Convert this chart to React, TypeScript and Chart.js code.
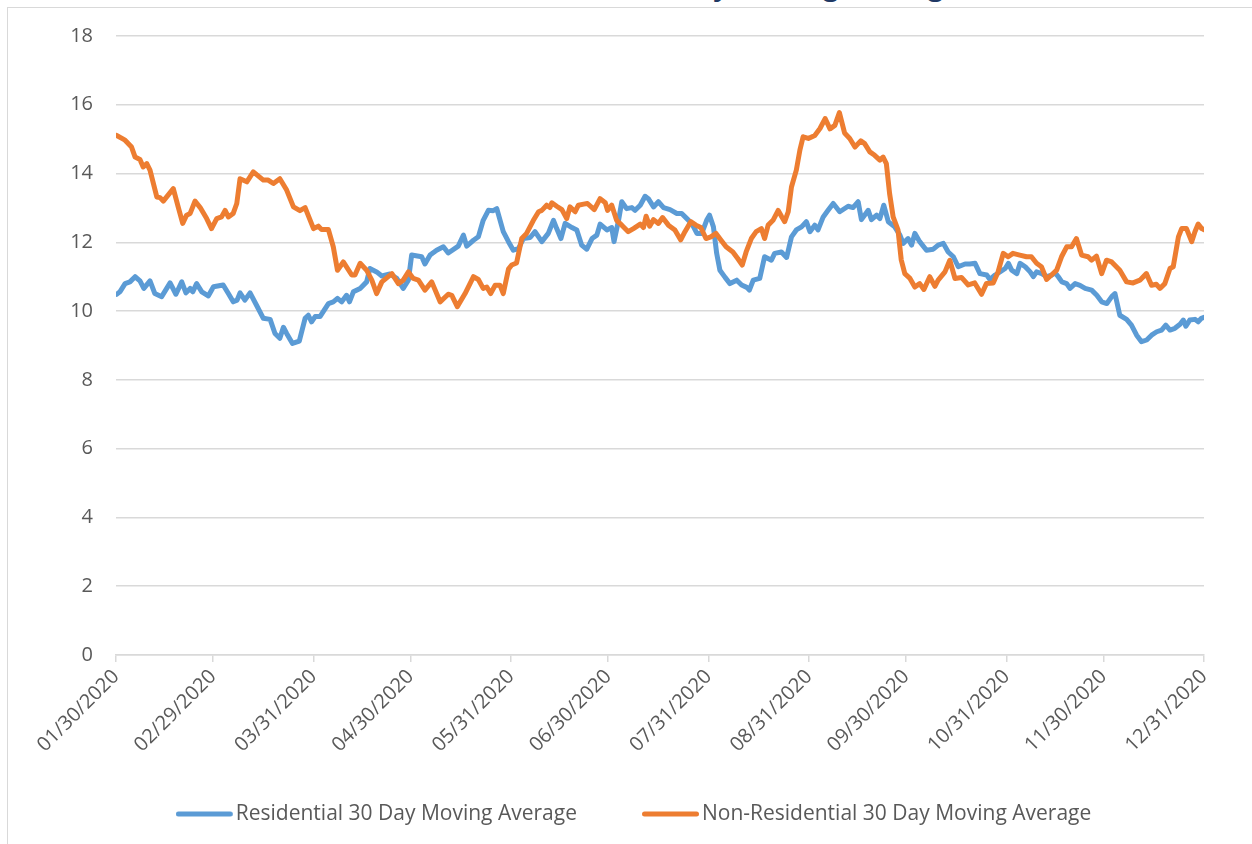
import React, { useEffect, useRef } from "react";
import { Chart, registerables } from "chart.js";

Chart.register(...registerables);

const FONT = "'Open Sans', 'Liberation Sans', sans-serif";

const chartTitle = "Non-Residential vs. Residential 30 Day Moving Average";
const seriesNames = ["Residential 30 Day Moving Average", "Non-Residential 30 Day Moving Average"];
const seriesColors = ["#5B9BD5", "#ED7D31"];

// day index counted from 01/30/2020
const monthEndDays = [0, 30, 61, 91, 122, 152, 183, 214, 244, 275, 305, 336];
const monthEndLabels = [
  "01/30/2020", "02/29/2020", "03/31/2020", "04/30/2020", "05/31/2020", "06/30/2020",
  "07/31/2020", "08/31/2020", "09/30/2020", "10/31/2020", "11/30/2020", "12/31/2020",
];
const yTicks = [0, 2, 4, 6, 8, 10, 12, 14, 16, 18];

const resDays = [
  0.2, 1.2, 2.8, 4.3, 5.9, 7.4, 8.6, 10.5, 12, 14.1, 16.7, 18.5, 20.3, 21.6, 22.9, 23.7, 24.9, 26.5, 28.5, 30.1,
  33.1, 34.7, 36.2, 37.4, 38.3, 39.8, 41.4, 43.4, 45.5, 47.6, 49.1, 50.6, 51.7, 52.7, 54.5, 56.6, 58.4, 59.4, 60.4, 61.5,
  63, 65.6, 67.1, 68.4, 69.7, 71.2, 72.1, 73.3, 75.4, 77.4, 78.4, 80.5, 82.1, 84.6, 86.7, 88.7, 90.3, 91.3, 94.4, 95.4,
  97, 99, 101.1, 102.6, 105.7, 107.3, 108.3, 110.4, 111.9, 113.4, 115, 116.5, 117.6, 119.6, 121.2, 122.7, 124.3, 125.8, 127.9, 129.4,
  131.5, 133.5, 135.1, 136.1, 137.4, 138.7, 140.8, 142.3, 143.8, 145.4, 147, 148.5, 149.5, 151.6, 153.1, 153.8, 155.2, 156.2, 157.7, 159.3,
  160.3, 161.9, 163.4, 164.4, 166, 167.5, 169.1, 171.1, 173.2, 174.7, 176.3, 177.8, 179.4, 180.9, 182.4, 183.3, 184.5, 185.5, 186.5, 188.1,
  189.6, 191.7, 193.2, 194.8, 195.6, 196.8, 198.8, 200.3, 202.4, 203.4, 205.5, 207.1, 208.6, 210.1, 211.7, 213.2, 214.3, 215.8, 216.8, 218.4,
  219.9, 221.5, 223.5, 226.1, 227.6, 229.2, 230.2, 232.3, 233.3, 234.9, 235.9, 237.1, 238.5, 240.5, 242.1, 243.1, 244.6, 245.7, 246.7, 248.2,
  250.3, 252.4, 253.9, 255.5, 257, 258.6, 260.1, 262.2, 263.7, 265.3, 266.8, 268.9, 269.9, 271.5, 273, 274.6, 275.6, 276.6, 278.2, 279.2,
  280.8, 282.3, 283.3, 284.3, 285.9, 287.4, 289, 290, 291, 292.1, 293.6, 294.6, 296.2, 297.7, 299.3, 301.3, 302.9, 304.4, 306, 307.5,
  308.5, 310, 312.1, 313.6, 315.2, 316.7, 318.3, 319.8, 321.4, 322.9, 324.2, 325.5, 327, 328.6, 329.6, 330.4, 331.6, 333.2, 334.2, 335.2,
  336,
];
const resValues = [
  10.49, 10.56, 10.8, 10.85, 11.0, 10.88, 10.66, 10.88, 10.51, 10.42, 10.82, 10.49, 10.85, 10.53, 10.66, 10.56, 10.8, 10.56, 10.44, 10.71,
  10.76, 10.51, 10.27, 10.32, 10.53, 10.32, 10.53, 10.17, 9.79, 9.76, 9.35, 9.21, 9.53, 9.35, 9.06, 9.13, 9.79, 9.88, 9.69, 9.84,
  9.84, 10.22, 10.27, 10.37, 10.27, 10.46, 10.27, 10.56, 10.66, 10.85, 11.24, 11.14, 11.02, 11.08, 10.95, 10.66, 10.9, 11.63, 11.58, 11.37,
  11.63, 11.77, 11.87, 11.69, 11.89, 12.21, 11.89, 12.06, 12.16, 12.64, 12.93, 12.92, 12.98, 12.31, 12.02, 11.77, 11.82, 12.11, 12.14, 12.31,
  12.02, 12.26, 12.64, 12.4, 12.11, 12.55, 12.43, 12.36, 11.92, 11.8, 12.11, 12.21, 12.53, 12.36, 12.43, 12.02, 12.64, 13.18, 12.98, 13.01,
  12.93, 13.08, 13.34, 13.27, 13.03, 13.18, 13.01, 12.95, 12.84, 12.84, 12.69, 12.55, 12.26, 12.26, 12.64, 12.79, 12.45, 11.68, 11.19, 10.98,
  10.8, 10.9, 10.76, 10.69, 10.61, 10.9, 10.95, 11.58, 11.48, 11.68, 11.72, 11.56, 12.16, 12.36, 12.45, 12.6, 12.31, 12.5, 12.36, 12.74,
  12.93, 13.13, 12.89, 13.05, 13.01, 13.18, 12.66, 12.93, 12.66, 12.79, 12.69, 13.08, 12.6, 12.45, 12.21, 11.97, 12.11, 11.92, 12.26, 12.02,
  11.77, 11.8, 11.92, 11.97, 11.72, 11.58, 11.29, 11.37, 11.37, 11.39, 11.09, 11.05, 10.92, 11.05, 11.14, 11.24, 11.39, 11.19, 11.09, 11.39,
  11.29, 11.14, 11.0, 11.14, 11.09, 11.0, 11.05, 11.12, 11.0, 10.85, 10.8, 10.66, 10.8, 10.75, 10.66, 10.61, 10.46, 10.27, 10.22, 10.42,
  10.51, 9.88, 9.76, 9.59, 9.3, 9.11, 9.16, 9.3, 9.4, 9.45, 9.59, 9.45, 9.5, 9.62, 9.74, 9.56, 9.74, 9.76, 9.69, 9.79,
  9.82,
];

const nonResDays = [
  0.2, 2.8, 4.8, 5.9, 7.4, 8.4, 9.5, 10.5, 12.6, 13.6, 14.6, 17.7, 19.2, 20.6, 21.8, 22.9, 24.4, 26, 28, 29.5,
  31.1, 32.6, 33.7, 34.7, 36.2, 37.3, 38.3, 40.4, 42.4, 45.5, 47, 48.6, 50.6, 52.7, 54.8, 56.8, 58.4, 61, 62.5, 63.5,
  65.6, 67.1, 68.4, 70.2, 72.8, 73.8, 75.4, 77.4, 79, 80.5, 82.1, 85.2, 87.2, 88.7, 90.3, 91.8, 93.4, 95.4, 97.5, 100.1,
  102.6, 103.7, 105.4, 107.8, 110.4, 111.9, 113.4, 114.5, 115.7, 117.1, 118.6, 119.6, 121.2, 122.2, 123.7, 125.3, 126.8, 128.9, 130.5, 131.5,
  133, 134, 134.6, 136.1, 137.7, 139.2, 140.2, 141.8, 142.8, 144.4, 145.6, 147.7, 149.5, 151.1, 151.8, 153.1, 154.6, 156.2, 158.2, 159.8,
  161.9, 162.9, 163.7, 164.8, 166, 167.5, 168.8, 170.6, 172.6, 174.4, 175.7, 177.5, 179.1, 180.6, 182.2, 183.7, 185.3, 186.8, 188.4, 190.5,
  192, 193.4, 194.6, 196.2, 197.7, 199.3, 200.3, 201.4, 202.9, 204.5, 205.5, 206.5, 207.6, 208.6, 210.1, 211.2, 212.2, 213.8, 215.8, 217.4,
  219, 220.5, 222, 223.4, 225, 226.6, 228.2, 230, 231.2, 232.8, 234.3, 235.9, 236.9, 237.9, 238.9, 240, 241.5, 242.5, 243.6, 245.2,
  246.7, 248.2, 249.5, 251.3, 252.9, 253.9, 256, 257.5, 259.1, 261.1, 263.2, 265.2, 267.3, 268.8, 270.9, 272.4, 274, 275.5, 277, 279.1,
  281.2, 282.7, 284.3, 285.8, 287.4, 288.9, 290.5, 292, 293.6, 295.1, 296.6, 298.2, 300.2, 301.3, 302.8, 304.4, 305.9, 307.5, 310, 312.1,
  314.1, 316.2, 318.2, 319.8, 321.3, 322.4, 323.9, 325.5, 326.5, 328.1, 329.1, 330.6, 332.2, 333.2, 334.2, 335.3, 336,
];
const nonResValues = [
  15.11, 14.97, 14.77, 14.48, 14.41, 14.19, 14.29, 14.1, 13.32, 13.3, 13.2, 13.56, 13.03, 12.55, 12.79, 12.84, 13.2, 13.01, 12.69, 12.4,
  12.69, 12.74, 12.93, 12.74, 12.84, 13.13, 13.85, 13.76, 14.05, 13.81, 13.81, 13.71, 13.85, 13.52, 13.03, 12.92, 13.01, 12.4, 12.47, 12.37,
  12.37, 11.87, 11.19, 11.43, 11.05, 11.05, 11.39, 11.19, 10.9, 10.51, 10.85, 11.09, 10.8, 10.9, 11.14, 10.95, 10.9, 10.61, 10.85, 10.27,
  10.49, 10.46, 10.13, 10.51, 11.0, 10.92, 10.66, 10.7, 10.51, 10.75, 10.75, 10.51, 11.22, 11.34, 11.4, 12.11, 12.26, 12.64, 12.89, 12.93,
  13.08, 13.01, 13.15, 13.05, 12.95, 12.69, 13.03, 12.89, 13.08, 13.11, 13.13, 12.95, 13.27, 13.15, 12.93, 13.08, 12.64, 12.5, 12.31, 12.4,
  12.53, 12.43, 12.76, 12.47, 12.66, 12.55, 12.72, 12.5, 12.36, 12.07, 12.31, 12.6, 12.5, 12.43, 12.11, 12.16, 12.26, 12.07, 11.87, 11.72,
  11.53, 11.34, 11.72, 12.11, 12.31, 12.4, 12.11, 12.5, 12.64, 12.93, 12.76, 12.6, 12.89, 13.61, 14.1, 14.68, 15.07, 15.02, 15.11, 15.31,
  15.6, 15.3, 15.4, 15.77, 15.18, 15.02, 14.77, 14.95, 14.87, 14.63, 14.53, 14.39, 14.48, 14.29, 13.42, 12.74, 12.36, 11.49, 11.09, 10.95,
  10.7, 10.8, 10.63, 11.0, 10.72, 10.9, 11.14, 11.48, 10.95, 10.98, 10.76, 10.82, 10.49, 10.8, 10.82, 11.14, 11.68, 11.58, 11.68, 11.63,
  11.58, 11.58, 11.39, 11.29, 10.92, 11.05, 11.19, 11.58, 11.87, 11.87, 12.11, 11.63, 11.58, 11.48, 11.6, 11.09, 11.48, 11.43, 11.19, 10.85,
  10.82, 10.9, 11.09, 10.75, 10.78, 10.66, 10.8, 11.24, 11.29, 12.16, 12.4, 12.4, 12.02, 12.31, 12.53, 12.4, 12.37,
];

// legend sample: a 57px round-capped stroke at the left of a 69px image
function makeLegendLine(color: string): HTMLCanvasElement {
  const c = document.createElement("canvas");
  c.width = 69;
  c.height = 6;
  const ctx = c.getContext("2d");
  if (ctx) {
    ctx.strokeStyle = color;
    ctx.lineWidth = 5;
    ctx.lineCap = "round";
    ctx.beginPath();
    ctx.moveTo(2.5, 3);
    ctx.lineTo(54.5, 3);
    ctx.stroke();
  }
  return c;
}

// keeps the legend row where the reference has it
const legendPlacement = {
  id: "legendPlacement",
  afterLayout(chart: any) {
    if (chart.legend) {
      chart.legend.left = 82.5;
      chart.legend.top = 719;
    }
  },
};

export default function App() {
  const canvasRef = useRef<HTMLCanvasElement | null>(null);

  useEffect(() => {
    if (!canvasRef.current) return;
    const legendImages = seriesColors.map((c) => makeLegendLine(c));
    const chart = new Chart(canvasRef.current, {
      type: "line",
      data: {
        datasets: [
          {
            label: seriesNames[0],
            data: resDays.map((d, i) => ({ x: d, y: resValues[i] })),
            borderColor: seriesColors[0],
            backgroundColor: seriesColors[0],
            borderWidth: 5,
            pointRadius: 0,
            tension: 0,
            borderJoinStyle: "round",
            borderCapStyle: "round",
            order: 1,
          },
          {
            label: seriesNames[1],
            data: nonResDays.map((d, i) => ({ x: d, y: nonResValues[i] })),
            borderColor: seriesColors[1],
            backgroundColor: seriesColors[1],
            borderWidth: 5,
            pointRadius: 0,
            tension: 0,
            borderJoinStyle: "round",
            borderCapStyle: "round",
            order: 0,
          },
        ],
      },
      plugins: [legendPlacement],
      options: {
        animation: false,
        responsive: false,
        events: [],
        layout: { padding: { top: 36, right: 48, left: 0, bottom: 0 } },
        plugins: {
          title: { display: false },
          tooltip: { enabled: false },
          legend: {
            display: true,
            position: "bottom",
            align: "center",
            maxHeight: 89,
            labels: {
              usePointStyle: true,
              pointStyleWidth: 30,
              padding: 84.5,
              color: "#595959",
              font: { family: FONT, size: 21 },
              sort: (a: any, b: any) => a.datasetIndex - b.datasetIndex,
              generateLabels: (ch: any) => {
                const base = (Chart as any).defaults.plugins.legend.labels.generateLabels(ch);
                return base.map((item: any) => ({
                  ...item,
                  pointStyle: legendImages[item.datasetIndex],
                }));
              },
            },
          },
        },
        scales: {
          x: {
            type: "linear",
            min: 0,
            max: 336,
            afterBuildTicks: (s: any) => {
              s.ticks = monthEndDays.map((v) => ({ value: v }));
            },
            afterFit: (s: any) => {
              s.height = 100;
            },
            grid: {
              drawOnChartArea: false,
              drawTicks: true,
              tickLength: 7,
              color: "#D9D9D9",
              lineWidth: 1.5,
            },
            border: { display: true, color: "#D9D9D9", width: 1.5 },
            ticks: {
              autoSkip: false,
              maxRotation: 45,
              minRotation: 45,
              padding: 3,
              color: "#595959",
              font: { family: FONT, size: 20 },
              callback: (v: any) => {
                const idx = monthEndDays.indexOf(Number(v));
                return idx >= 0 ? monthEndLabels[idx] : "";
              },
            },
          },
          y: {
            min: 0,
            max: 18,
            afterBuildTicks: (s: any) => {
              s.ticks = yTicks.map((v) => ({ value: v }));
            },
            afterFit: (s: any) => {
              s.width = 116;
            },
            grid: { color: "#D9D9D9", lineWidth: 1.5, drawTicks: false },
            border: { display: false },
            ticks: {
              padding: 23,
              color: "#595959",
              font: { family: FONT, size: 20 },
            },
          },
        },
      },
    });
    return () => chart.destroy();
  }, []);

  return (
    <div
      style={{
        position: "fixed",
        left: 0,
        top: 0,
        width: 1252,
        height: 844,
        overflow: "hidden",
        background: "#ffffff",
      }}
    >
      <div
        style={{
          position: "absolute",
          left: 0,
          top: -30,
          width: 960,
          textAlign: "right",
          fontFamily: FONT,
          fontWeight: "bold",
          fontSize: 28,
          lineHeight: "28px",
          color: "#203864",
          whiteSpace: "nowrap",
        }}
      >
        {chartTitle}
      </div>
      <div
        style={{
          position: "absolute",
          left: 7,
          top: 7,
          width: 1300,
          height: 900,
          border: "1px solid #D9D9D9",
        }}
      />
      <canvas
        ref={canvasRef}
        width={1252}
        height={844}
        style={{ position: "absolute", left: 0, top: 0, display: "block" }}
      />
    </div>
  );
}
